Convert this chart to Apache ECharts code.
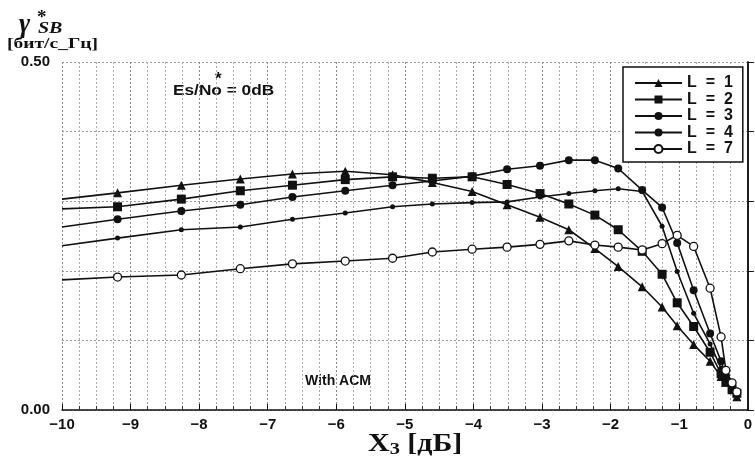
<!DOCTYPE html>
<html>
<head>
<meta charset="utf-8">
<script src="https://cdn.jsdelivr.net/npm/echarts@6/dist/echarts.min.js"></script>
<style>
  html, body { margin: 0; padding: 0; background: #fff; }
  #chart { width: 755px; height: 465px; }
</style>
</head>
<body>
<div id="chart"></div>
<script>
// X3 [dB] sample positions shared by every curve
const xValues = [-10, -9.19, -8.26, -7.40, -6.64, -5.87, -5.18, -4.60, -4.02, -3.51, -3.03, -2.61,
  -2.23, -1.89, -1.54, -1.25, -1.03, -0.79, -0.55, -0.39, -0.32, -0.23, -0.16];

const seriesNames = ['L = 1', 'L = 2', 'L = 3', 'L = 4', 'L = 7'];

const l1 = [0.303, 0.312, 0.323, 0.332, 0.339, 0.343, 0.338, 0.327, 0.314, 0.295, 0.277, 0.259,
  0.232, 0.206, 0.177, 0.148, 0.121, 0.094, 0.070, 0.048, 0.040, 0.029, 0.019];
const l2 = [0.289, 0.292, 0.303, 0.315, 0.323, 0.331, 0.335, 0.333, 0.335, 0.324, 0.311, 0.296,
  0.280, 0.259, 0.228, 0.195, 0.154, 0.120, 0.083, 0.052, 0.040, 0.030, 0.024];
const l3 = [0.263, 0.274, 0.286, 0.295, 0.306, 0.315, 0.323, 0.329, 0.336, 0.346, 0.351, 0.359,
  0.359, 0.347, 0.316, 0.291, 0.240, 0.172, 0.110, 0.070, 0.050, 0.035, 0.025];
const l4 = [0.236, 0.247, 0.259, 0.263, 0.274, 0.283, 0.292, 0.296, 0.298, 0.299, 0.306, 0.311,
  0.315, 0.318, 0.314, 0.264, 0.199, 0.139, 0.095, 0.060, 0.045, 0.032, 0.022];
const l7 = [0.187, 0.191, 0.194, 0.203, 0.210, 0.214, 0.218, 0.227, 0.231, 0.234, 0.238, 0.243,
  0.237, 0.234, 0.230, 0.239, 0.251, 0.235, 0.175, 0.105, 0.057, 0.039, 0.026];

const allY = [l1, l2, l3, l4, l7];
const symbols = ['triangle', 'rect', 'circle', 'circle', 'circle'];
const symbolSizes = [9, 9, 8, 5, 8];

function toData(ys) {
  // first point sits on the left border, drawn without a marker
  return xValues.map((x, i) => i === 0 ? { value: [x, ys[i]], symbol: 'none' } : [x, ys[i]]);
}

const ink = '#111';
const sans = '"Liberation Sans", Arial, sans-serif';
const serif = '"Liberation Serif", "Times New Roman", serif';

let myChart = echarts.init(document.getElementById('chart'));
myChart.setOption({
  animation: false,
  backgroundColor: '#fff',
  grid: { left: 62, right: 7, top: 62, bottom: 55 },
  legend: {
    orient: 'vertical',
    left: 623,
    top: 67,
    padding: [8, 10, 5, 11],
    itemWidth: 47,
    itemHeight: 10,
    itemGap: 0.5,
    backgroundColor: '#fff',
    borderColor: ink,
    borderWidth: 1.5,
    borderRadius: 0,
    data: seriesNames,
    formatter: n => n.replace(/ /g, '  '),
    textStyle: { fontFamily: sans, fontWeight: 'bold', fontSize: 16, lineHeight: 16, color: ink }
  },
  xAxis: {
    type: 'value',
    min: -10,
    max: 0,
    interval: 1,
    axisLine: { lineStyle: { color: ink, width: 1.5 } },
    axisTick: { inside: true, length: 6, lineStyle: { color: ink } },
    minorTick: { show: true, splitNumber: 4, length: 4, lineStyle: { color: '#333' } },
    axisLabel: {
      fontFamily: sans, fontWeight: 'bold', fontSize: 15, color: ink, margin: 7,
      formatter: v => v === 0 ? '0' : '\u2212' + Math.abs(v)
    },
    splitLine: { show: true, lineStyle: { color: '#888', type: [2, 2], width: 1 } },
    minorSplitLine: { show: true, lineStyle: { color: '#aaa', type: [2, 2], width: 1 } }
  },
  yAxis: [{
    type: 'value',
    min: 0,
    max: 0.5,
    interval: 0.1,
    axisLine: { show: true, lineStyle: { color: ink, width: 1.5 } },
    axisTick: { show: true, inside: true, length: 6, lineStyle: { color: ink } },
    axisLabel: {
      fontFamily: sans, fontWeight: 'bold', fontSize: 15, color: ink, margin: 12,
      formatter: v => (Math.abs(v) < 1e-6 || Math.abs(v - 0.5) < 1e-6) ? v.toFixed(2) : ''
    },
    splitLine: { show: true, lineStyle: { color: '#999', type: [2, 2], width: 1 } }
  }, {
    type: 'value',
    min: 0,
    max: 0.5,
    position: 'right',
    axisLine: { show: true, lineStyle: { color: ink, width: 1.5 } },
    axisTick: { show: false },
    axisLabel: { show: false },
    splitLine: { show: false }
  }],
  series: allY.map((ys, k) => ({
    name: seriesNames[k],
    type: 'line',
    data: toData(ys),
    symbol: symbols[k],
    symbolSize: symbolSizes[k],
    showAllSymbol: true,
    color: ink,
    lineStyle: { color: ink, width: 1.6 },
    itemStyle: k === 4
      ? { color: '#fff', borderColor: ink, borderWidth: 1.3 }
      : { color: ink, borderColor: ink, borderWidth: 0 },
    z: 3 + k
  })),
  graphic: [
    { type: 'text', x: 19, y: 12, style: { text: 'γ', font: 'italic bold 27px ' + serif, fill: ink } },
    { type: 'text', x: 37, y: 9, style: { text: '*', font: 'bold 19px ' + serif, fill: ink } },
    { type: 'text', x: 38, y: 21, scaleX: 1.25, style: { text: 'SB', font: 'italic bold 16px ' + serif, fill: ink } },
    { type: 'text', x: 7, y: 37, scaleX: 1.3, style: { text: '[бит/с_Гц]', font: 'bold 15px ' + serif, fill: ink } },
    { type: 'text', x: 173, y: 83, scaleX: 1.15, style: { text: 'Es/No = 0dB', font: 'bold 15px ' + sans, fill: ink } },
    { type: 'text', x: 215, y: 71, style: { text: '*', font: 'bold 17px ' + sans, fill: ink } },
    { type: 'text', x: 305, y: 374, style: { text: 'With ACM', font: 'bold 14px ' + sans, fill: ink } },
    { type: 'text', x: 368, y: 431, scaleX: 1.2, style: {
        text: '{a|X}{b|3}{a| [дБ]}',
        rich: {
          a: { font: 'bold 25px ' + serif, fill: ink },
          b: { font: 'bold 17px ' + serif, fill: ink, padding: [10, 0, 0, 0] }
        }
      } }
  ]
});
</script>
</body>
</html>
